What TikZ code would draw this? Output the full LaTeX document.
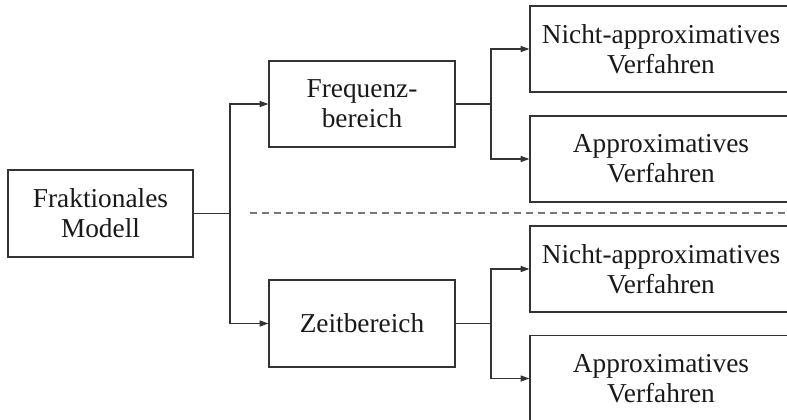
\documentclass[tikz,border=0pt]{standalone}
\usepackage{fontspec}
\setmainfont{Liberation Serif}
\usetikzlibrary{arrows.meta}
\definecolor{edge}{HTML}{333333}
\definecolor{dashc}{HTML}{777777}
\tikzset{
  box/.style={draw=edge, line width=0.9pt, align=center, inner sep=0pt,
    font=\fontsize{20.5pt}{22.5pt}\selectfont, text=black!90},
  conn/.style={draw=edge, line width=0.9pt},
  arr/.style={conn, -{Triangle[length=6.5pt,width=4.5pt]}},
  sep/.style={draw=dashc, line width=0.9pt, dash pattern=on 5.2pt off 3.8pt}
}
\begin{document}
\begin{tikzpicture}[x=0.75pt,y=-0.75pt]
\useasboundingbox (0,0) rectangle (787,419);
\clip (0,0) rectangle (787,419);
\node[box, minimum width=138.75pt, minimum height=65.25pt] (frak) at (100.5,213.5) {Fraktionales\\Modell};
\node[box, minimum width=139.5pt, minimum height=64.5pt] (freq) at (362,104) {Frequenz-\\bereich};
\node[box, minimum width=139.5pt, minimum height=65.25pt] (zeit) at (362,323.5) {Zeitbereich};
\node[box, minimum width=196.5pt, minimum height=64.5pt] (na1) at (661,49) {Nicht-approximatives\\Verfahren};
\node[box, minimum width=196.5pt, minimum height=64.5pt] (ap1) at (661,159) {Approximatives\\Verfahren};
\node[box, minimum width=196.5pt, minimum height=64.5pt] (na2) at (661,269) {Nicht-approximatives\\Verfahren};
\node[box, minimum width=196.5pt, minimum height=64.5pt] (ap2) at (661,378.5) {Approximatives\\Verfahren};
\coordinate (j1) at (230,213.5);
\coordinate (j2) at (491,104);
\coordinate (j3) at (491,323.5);
\coordinate (d1) at (250,213);
\coordinate (d2) at (790,213);
\draw[conn] (frak.east) -- (j1);
\draw[arr] (j1) |- (freq.west);
\draw[arr] (j1) |- (zeit.west);
\draw[conn] (freq.east) -- (j2);
\draw[arr] (j2) |- (na1.west);
\draw[arr] (j2) |- (ap1.west);
\draw[conn] (zeit.east) -- (j3);
\draw[arr] (j3) |- (na2.west);
\draw[arr] (j3) |- (ap2.west);
\draw[sep] (d1) -- (d2);
\end{tikzpicture}
\end{document}
